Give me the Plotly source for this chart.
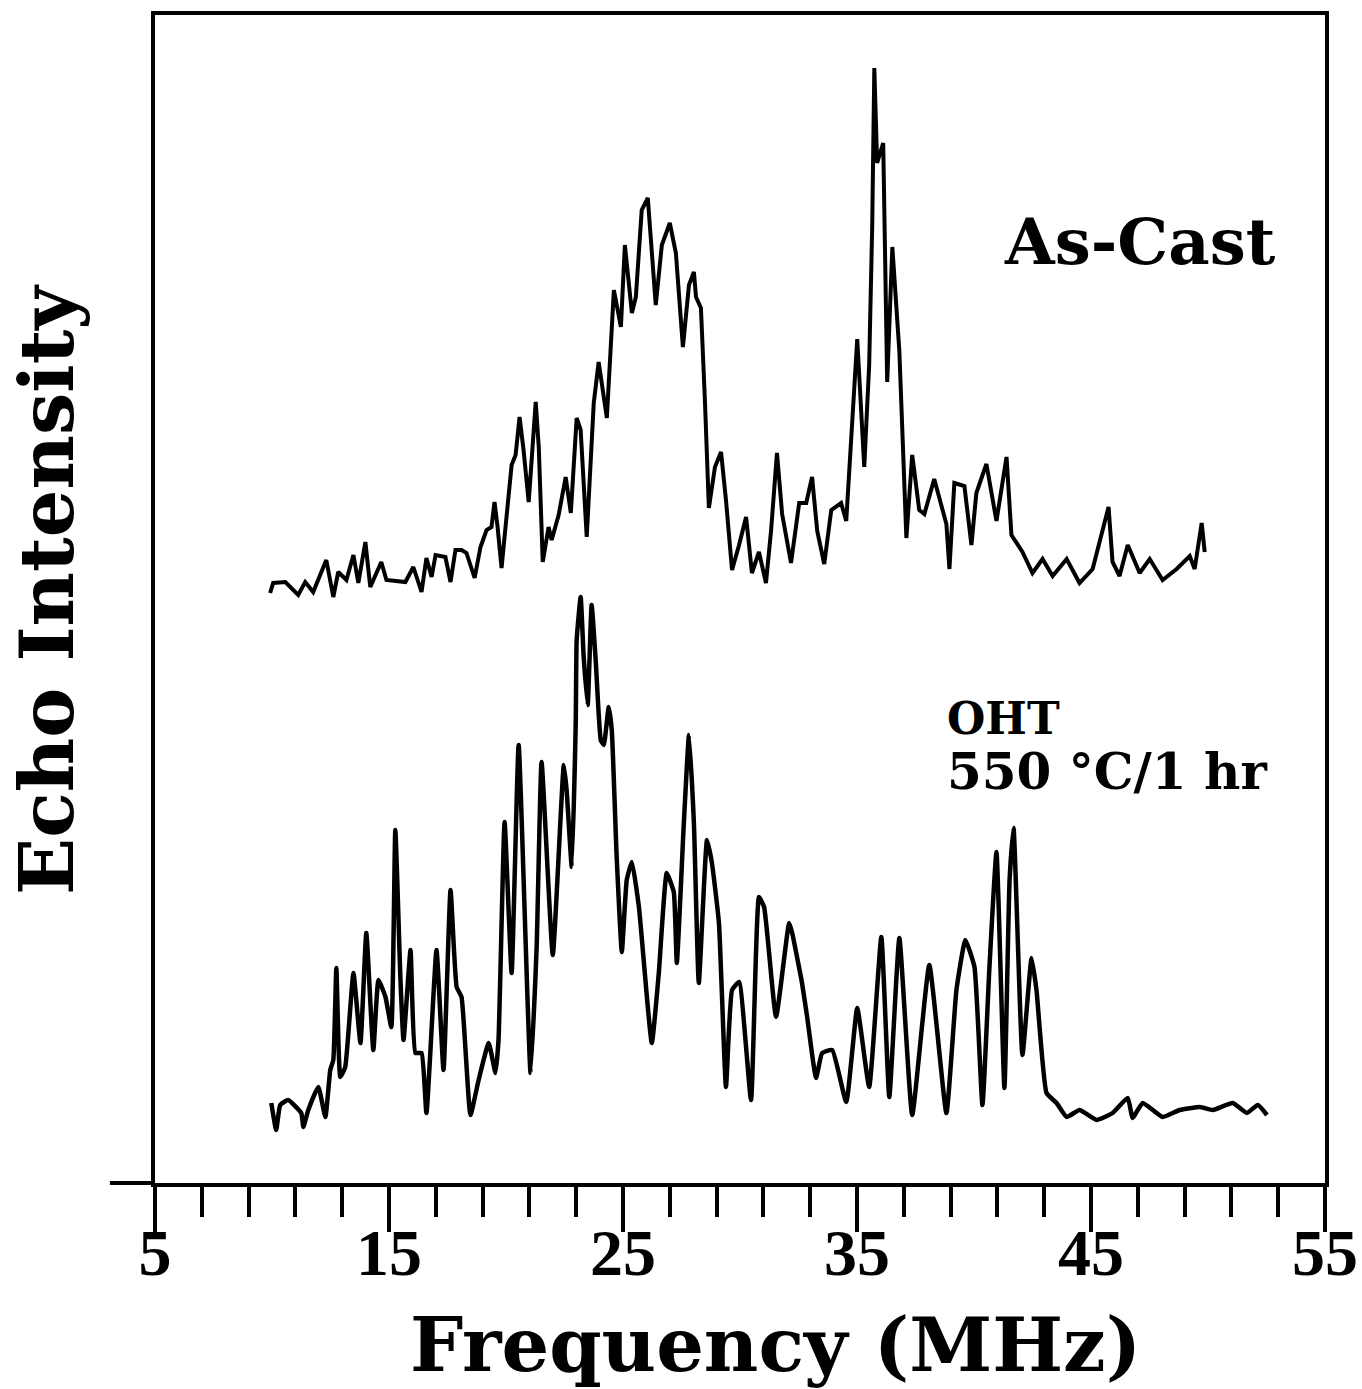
import plotly.graph_objects as go

# As-Cast spectrum: frequency (MHz) and echo intensity (arbitrary units)
as_cast_freq = [9.92, 10.05, 10.57, 11.12, 11.42, 11.76, 12.32, 12.62, 12.83, 13.18,
                13.48, 13.69, 13.99, 14.20, 14.67, 14.89, 15.70, 16.04, 16.39, 16.60,
                16.82, 16.99, 17.41, 17.63, 17.84, 18.10, 18.31, 18.66, 18.91, 19.17,
                19.38, 19.51, 19.64, 19.81, 19.98, 20.24, 20.41, 20.58, 20.75, 20.97,
                21.27, 21.40, 21.57, 21.82, 21.95, 22.25, 22.55, 22.77, 23.02, 23.19,
                23.45, 23.75, 23.96, 24.31, 24.61, 24.91, 25.08, 25.38, 25.55, 25.80,
                26.06, 26.40, 26.66, 27.00, 27.26, 27.56, 27.82, 28.03, 28.12, 28.33,
                28.50, 28.67, 28.93, 29.19, 29.40, 29.66, 29.96, 30.26, 30.51, 30.81,
                31.11, 31.33, 31.58, 31.80, 32.18, 32.53, 32.83, 33.08, 33.30, 33.60,
                33.90, 34.32, 34.54, 34.75, 35.01, 35.31, 35.52, 35.65, 35.74, 35.86,
                36.12, 36.29, 36.51, 36.81, 37.11, 37.36, 37.66, 37.88, 38.30, 38.82,
                38.95, 39.16, 39.59, 39.89, 40.10, 40.53, 40.96, 41.39, 41.60, 42.07,
                42.50, 42.93, 43.36, 43.96, 44.51, 45.07, 45.75, 45.92, 46.22, 46.57,
                47.08, 47.51, 48.06, 48.66, 49.22, 49.43, 49.73, 49.86]
as_cast_int = [590, 600, 601, 588, 601, 591, 623, 586, 611, 603,
               628, 600, 641, 596, 621, 603, 601, 616, 591, 625,
               606, 628, 626, 601, 633, 633, 630, 605, 636, 653,
               656, 681, 656, 615, 656, 718, 728, 766, 733, 681,
               781, 736, 621, 656, 643, 668, 706, 670, 765, 753,
               646, 780, 821, 765, 893, 856, 938, 870, 886, 973,
               985, 878, 938, 960, 930, 836, 898, 911, 886, 875,
               783, 675, 716, 731, 683, 613, 638, 666, 610, 631,
               600, 653, 730, 669, 620, 680, 680, 706, 652, 619,
               673, 680, 662, 749, 844, 716, 818, 957, 1115, 1020,
               1040, 801, 936, 832, 645, 728, 673, 669, 704, 659,
               614, 700, 697, 638, 690, 719, 662, 726, 648, 631,
               610, 624, 607, 624, 600, 614, 676, 621, 607, 638,
               610, 624, 603, 614, 627, 614, 660, 631]

# OHT 550 C / 1 hr spectrum
oht_freq = [9.97, 10.18, 10.35, 10.69, 11.25, 11.34, 11.55, 11.98, 12.28, 12.49,
            12.62, 12.75, 12.92, 13.13, 13.48, 13.78, 14.03, 14.33, 14.55, 14.85,
            15.10, 15.27, 15.49, 15.62, 15.92, 16.13, 16.39, 16.60, 17.03, 17.33,
            17.63, 17.89, 18.10, 18.48, 18.83, 19.26, 19.55, 19.68, 19.94, 20.24,
            20.54, 21.05, 21.31, 21.52, 22.00, 22.47, 22.59, 22.81, 22.98, 23.02,
            23.19, 23.32, 23.49, 23.66, 23.84, 24.05, 24.18, 24.39, 24.52, 24.73,
            24.95, 25.16, 25.38, 25.68, 26.23, 26.53, 26.87, 27.17, 27.30, 27.60,
            27.82, 28.03, 28.24, 28.59, 28.80, 29.10, 29.40, 29.66, 29.96, 30.47,
            30.81, 31.03, 31.54, 32.10, 32.23, 32.65, 32.87, 33.25, 33.51, 33.94,
            34.54, 35.01, 35.52, 36.04, 36.38, 36.81, 37.36, 38.09, 38.82, 39.25,
            39.63, 40.02, 40.36, 40.66, 40.96, 41.30, 41.52, 41.69, 42.07, 42.46,
            42.67, 43.10, 43.53, 43.96, 44.51, 45.24, 45.92, 46.57, 46.78, 47.21,
            48.06, 48.79, 49.65, 50.21, 51.06, 51.66, 52.13, 52.52]
oht_int = [80, 53, 78, 83, 70, 56, 73, 96, 66, 113,
           123, 215, 106, 116, 210, 140, 250, 133, 203, 186,
           156, 353, 203, 143, 233, 130, 130, 70, 233, 113,
           293, 196, 186, 68, 103, 140, 110, 143, 361, 210,
           438, 110, 236, 421, 228, 418, 393, 316, 460, 543,
           586, 526, 478, 578, 520, 443, 438, 476, 453, 326,
           231, 303, 321, 276, 140, 210, 310, 291, 220, 360,
           448, 360, 200, 343, 320, 260, 96, 193, 201, 83,
           286, 276, 166, 260, 250, 200, 166, 105, 130, 133,
           81, 175, 96, 246, 86, 245, 68, 218, 70, 193,
           243, 216, 78, 216, 331, 95, 303, 355, 128, 225,
           193, 90, 80, 66, 73, 63, 70, 85, 65, 80,
           66, 73, 76, 73, 80, 70, 78, 68]

x_ticks = [5, 15, 25, 35, 45, 55]
x_tick_labels = ["5", "15", "25", "35", "45", "55"]

SERIF = "DejaVu Serif"

fig = go.Figure()
fig.add_trace(go.Scatter(x=as_cast_freq, y=as_cast_int, mode="lines",
                         line=dict(color="black", width=4), name="As-Cast"))
fig.add_trace(go.Scatter(x=oht_freq, y=oht_int, mode="lines",
                         line=dict(color="black", width=4.5, shape="spline", smoothing=0.4),
                         name="OHT 550 °C/1 hr"))

fig.update_layout(
    width=1362, height=1389,
    margin=dict(l=155, r=37, t=15, b=206, autoexpand=False),
    paper_bgcolor="white", plot_bgcolor="white",
    showlegend=False,
    xaxis=dict(range=[5, 55], tickvals=x_ticks, ticktext=x_tick_labels,
               ticks="outside", ticklen=45, tickwidth=4, tickcolor="black",
               showline=True, linewidth=4, linecolor="black", mirror=True,
               showgrid=False, zeroline=False, automargin=False,
               ticklabelstandoff=-36,
               tickfont=dict(family="Liberation Serif", size=66, color="black", weight="bold"),
               minor=dict(dtick=2, tick0=5, ticks="outside", ticklen=30,
                          tickwidth=4, tickcolor="black", showgrid=False)),
    yaxis=dict(range=[0, 1168], showticklabels=False, ticks="",
               showline=True, linewidth=4, linecolor="black", mirror=True,
               showgrid=False, zeroline=False, automargin=False),
    shapes=[dict(type="line", xref="paper", yref="paper", x0=-0.0385, x1=0,
                 y0=0, y1=0, line=dict(color="black", width=4))],
    annotations=[
        dict(text="Frequency (MHz)", xref="paper", yref="paper", x=0.530, y=-0.1387,
             xanchor="center", yanchor="middle", showarrow=False,
             font=dict(family=SERIF, size=75, color="black", weight="bold")),
        dict(text="Echo Intensity", xref="paper", yref="paper", x=-0.0923, y=0.5077,
             xanchor="center", yanchor="middle", showarrow=False, textangle=-90,
             font=dict(family=SERIF, size=75, color="black", weight="bold")),
        dict(text="As-Cast", xref="paper", yref="paper", x=0.9598, y=0.8065,
             xanchor="right", yanchor="middle", showarrow=False,
             font=dict(family=SERIF, size=64, color="black", weight="bold")),
        dict(text="OHT", xref="paper", yref="paper", x=0.6752, y=0.3973,
             xanchor="left", yanchor="middle", showarrow=False,
             font=dict(family=SERIF, size=44, color="black", weight="bold")),
        dict(text="550 °C/1 hr", xref="paper", yref="paper", x=0.6752, y=0.3527,
             xanchor="left", yanchor="middle", showarrow=False,
             font=dict(family=SERIF, size=50, color="black", weight="bold")),
    ],
)

fig.write_html("out.html", config={"displayModeBar": False},
               post_script="document.body.style.margin='0';")
